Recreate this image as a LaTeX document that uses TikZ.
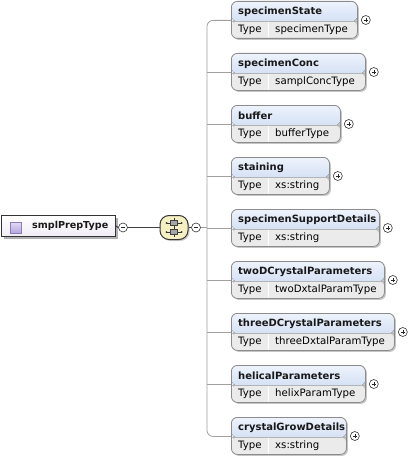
\documentclass[tikz,border=0pt]{standalone}
\usepackage{fontspec}
\setmainfont{DejaVu Sans}
\usetikzlibrary{shadows}
\definecolor{hdtop}{HTML}{EEF3FC}
\definecolor{hdbot}{HTML}{BFD1F0}
\definecolor{typefill}{HTML}{EBEBEB}
\definecolor{boxborder}{HTML}{8C8C8C}
\definecolor{divcol}{HTML}{B4B4B4}
\definecolor{conncol}{HTML}{A0A0A0}
\definecolor{seqfill}{HTML}{F6EFC4}
\definecolor{rootfill}{HTML}{F0ECF6}
\definecolor{icontop}{HTML}{E2DAF4}
\definecolor{iconbot}{HTML}{B6A6DE}
\definecolor{iconborder}{HTML}{8A7CB6}
\tikzset{
  elembox/.style={draw=boxborder, line width=0.8pt, rounded corners=6pt,
    anchor=north west, minimum height=37pt, inner sep=0pt,
    drop shadow={shadow xshift=1.5pt, shadow yshift=-1.5pt, fill=black!45, opacity=0.5},
    path picture={
      \fill[top color=hdtop, bottom color=hdbot] (path picture bounding box.north west) rectangle ([yshift=-20pt]path picture bounding box.north east);
      \fill[typefill] ([yshift=-20pt]path picture bounding box.north west) rectangle (path picture bounding box.south east);
      \draw[divcol, line width=0.6pt] ([yshift=-20pt]path picture bounding box.north west) -- ([yshift=-20pt]path picture bounding box.north east);
      \draw[white, line width=0.8pt] ([xshift=37pt,yshift=-20.5pt]path picture bounding box.north west) -- ([xshift=37pt]path picture bounding box.south west);
    }},
  hdtext/.style={anchor=west, inner sep=0pt, font=\bfseries\fontsize{10}{12}\selectfont, text=black!90},
  tytext/.style={anchor=west, inner sep=0pt, font=\fontsize{10.2}{12}\selectfont, text=black},
  pm/.style={circle, draw=black!80, fill=white, line width=0.6pt, minimum size=9pt, inner sep=0pt},
  conn/.style={draw=conncol, line width=0.8pt},
  darkconn/.style={draw=black!75, line width=1.1pt},
}
\newcommand\plussign[1]{\draw[black!85, line width=0.6pt] ([xshift=-2.2pt]#1.center) -- ([xshift=2.2pt]#1.center) ([yshift=-2.2pt]#1.center) -- ([yshift=2.2pt]#1.center);}
\newcommand\minussign[1]{\draw[black!85, line width=0.6pt] ([xshift=-2.2pt]#1.center) -- ([xshift=2.2pt]#1.center);}
\newcommand\elemnode[5]{% name, top, width, label, type
  \node[elembox, minimum width=#3pt] (#1) at (231,#2) {};
  \node[hdtext] at ([xshift=7pt,yshift=-10.5pt]#1.north west) {#4};
  \node[tytext] at ([xshift=7pt,yshift=-29pt]#1.north west) {Type};
  \node[tytext] at ([xshift=44pt,yshift=-29pt]#1.north west) {#5};
  \node[pm] (#1p) at ([xshift=8pt,yshift=-19pt]#1.north east) {};
  \plussign{#1p}
}
\begin{document}
\begin{tikzpicture}[x=1pt,y=-1pt]
\useasboundingbox (0,0) rectangle (412,460);
% root
\node[draw=black!80, line width=1pt, top color=white, bottom color=rootfill,
  minimum width=114pt, minimum height=21pt, inner sep=0pt, anchor=north west,
  drop shadow={shadow xshift=2pt, shadow yshift=-2pt, fill=black!60, opacity=0.5}] (root) at (1,215) {};
\node[draw=iconborder, line width=0.6pt, top color=icontop, bottom color=iconbot,
  minimum size=11pt, inner sep=0pt] (icon) at (15.5,227.5) {};
\node[anchor=west, inner sep=0pt, font=\bfseries\fontsize{9.6}{12}\selectfont, text=black!90] (rootlabel) at (32,226) {smplPrepType};
\node[pm] (m0) at (123,227.5) {};
\minussign{m0}
% sequence compositor
\node[draw=black!80, line width=1pt, fill=seqfill, minimum width=28pt, minimum height=24pt,
  rounded corners=9pt, inner sep=0pt,
  drop shadow={shadow xshift=1.5pt, shadow yshift=-1.5pt, fill=black!50, opacity=0.4}] (seq) at (174,227.5) {};
\draw[black!80, line width=0.8pt] (174,218) -- (174,237);
\draw[black!80, line width=0.8pt] (167,223) -- (181,223) (167,232) -- (181,232);
\fill[black!80] (166.5,223) circle (1pt) (181.5,223) circle (1pt) (166.5,232) circle (1pt) (181.5,232) circle (1pt);
\node[draw=black!75, fill=black!35, line width=0.6pt, minimum width=7pt, minimum height=5.5pt, inner sep=0pt] (sq1) at (174,223) {};
\node[draw=black!75, fill=black!35, line width=0.6pt, minimum width=7pt, minimum height=5.5pt, inner sep=0pt] (sq2) at (174,232) {};
\node[pm] (m1) at (196,227.5) {};
\minussign{m1}
% elements
\elemnode{e1}{1}{126}{specimenState}{specimenType}
\elemnode{e2}{53}{134}{specimenConc}{samplConcType}
\elemnode{e3}{105}{109}{buffer}{bufferType}
\elemnode{e4}{157}{98}{staining}{xs:string}
\elemnode{e5}{209}{148}{specimenSupportDetails}{xs:string}
\elemnode{e6}{261}{153}{twoDCrystalParameters}{twoDxtalParamType}
\elemnode{e7}{313}{163}{threeDCrystalParameters}{threeDxtalParamType}
\elemnode{e8}{365}{134}{helicalParameters}{helixParamType}
\elemnode{e9}{417}{115}{crystalGrowDetails}{xs:string}
% connectors
\coordinate (bus) at (207,227.5);
\draw[darkconn] (root.east) -- (m0.west);
\draw[darkconn] (m0.east) -- (seq.west);
\draw[darkconn] (seq.east) -- (m1.west);
\draw[conn] (m1.east) -- (bus);
\draw[conn, rounded corners=6pt] ([yshift=-0.5pt]e1.west) -| (bus) |- ([yshift=-0.5pt]e9.west);
\foreach \e in {e2,e3,e4,e5,e6,e7,e8}{
  \draw[conn] ([yshift=-0.5pt]\e.west) -- ([yshift=-0.5pt]\e.west -| bus);
}
\end{tikzpicture}
\end{document}
